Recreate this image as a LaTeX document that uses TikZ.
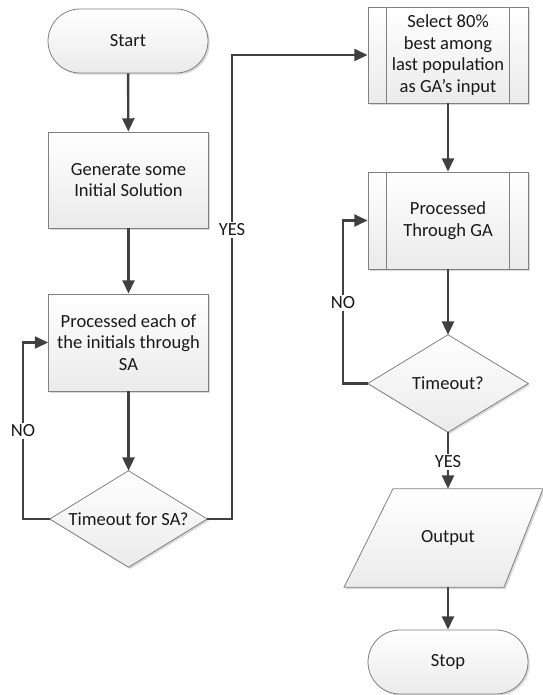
\documentclass[tikz,border=0pt]{standalone}
\usepackage{fontspec}
\setmainfont{Carlito}
\usetikzlibrary{arrows.meta,shadows,calc}
\begin{document}
\begin{tikzpicture}[x=0.75pt,y=-0.75pt,
  font=\fontsize{13.9}{16.2}\selectfont,
  text=black!90,
  shapefill/.style={top color=white, bottom color=black!8, draw=black!50, line width=0.6pt,
    drop shadow={shadow xshift=1.3pt, shadow yshift=-1.3pt, opacity=0.15, fill=black}},
  procbox/.style={shapefill, rectangle, minimum width=120pt, inner sep=2pt, align=center},
  terminal/.style={shapefill, rectangle, rounded corners=24pt, minimum width=120pt, minimum height=48pt, align=center},
  holder/.style={rectangle, minimum width=120pt, inner sep=0pt, align=center},
  flow/.style={draw=black!75, line width=1.8pt, line join=miter,
    -{Triangle[length=10pt,width=9pt]}},
  lbl/.style={fill=white, inner sep=1.5pt},
  border/.style={draw=black!50, line width=0.6pt}
]
\useasboundingbox (0,0) rectangle (542,695);

% ---- left column ----
\node[terminal] (start) at (128,41) {Start};
\node[procbox, minimum height=72pt] (gen) at (128.5,180) {Generate some\\Initial Solution};
\node[procbox, minimum height=72.75pt] (proc) at (128.5,342.5) {Processed each of\\the initials through\\SA};

% decision: timeout for SA
\node[holder, minimum width=117.75pt, minimum height=72pt] (dsa) at (128.5,519) {};
\path[shapefill] (dsa.north) -- (dsa.east) -- (dsa.south) -- (dsa.west) -- cycle;
\node at (dsa.center) {Timeout for SA?};

% ---- right column ----
\node[procbox, minimum height=72pt] (sel) at (448,55) {Select 80\%\\best among\\last population\\as GA’s input};
\draw[border] ([xshift=14.25pt]sel.north west) -- ([xshift=14.25pt]sel.south west);
\draw[border] ([xshift=-14.25pt]sel.north east) -- ([xshift=-14.25pt]sel.south east);

\node[procbox, minimum height=72.75pt] (ga) at (448,220.5) {Processed\\Through GA};
\draw[border] ([xshift=14.25pt]ga.north west) -- ([xshift=14.25pt]ga.south west);
\draw[border] ([xshift=-14.25pt]ga.north east) -- ([xshift=-14.25pt]ga.south east);

% decision: timeout for GA
\node[holder, minimum height=72.75pt] (dga) at (448,383.5) {};
\path[shapefill] (dga.north) -- (dga.east) -- (dga.south) -- (dga.west) -- cycle;
\node at (dga.center) {Timeout?};

% output (parallelogram)
\node[holder, minimum height=73.5pt] (out) at (448,538) {};
\path[shapefill] ($(out.north)+(-55,0)$) -- ($(out.north)+(95,0)$)
  -- ($(out.south)+(56,0)$) -- ($(out.south)+(-104,0)$) -- cycle;
\node at (out.center) {Output};

\node[terminal] (stop) at (448,662) {Stop};

% ---- connectors ----
\draw[flow] (start) -- (gen);
\draw[flow] (gen) -- (proc);
\draw[flow] (proc) -- (dsa.north);
\draw[flow] (dsa.west) -- (23,519) -- (23,342.5) -- (proc.west);
\node[lbl] at (23,431) {NO};
\draw[flow] (dsa.east) -- (232,519) -- (232,55) -- (sel.west);
\node[lbl] at (232,230) {YES};

\draw[flow] (sel) -- (ga);
\draw[flow] (ga) -- (dga.north);
\draw[flow] (dga.west) -- (343,383.5) -- (343,220.5) -- (ga.west);
\node[lbl] at (343,303) {NO};
\draw[flow] (dga.south) -- (out.north);
\node[lbl] at (448,462) {YES};
\draw[flow] (out.south) -- (stop);
\end{tikzpicture}
\end{document}
